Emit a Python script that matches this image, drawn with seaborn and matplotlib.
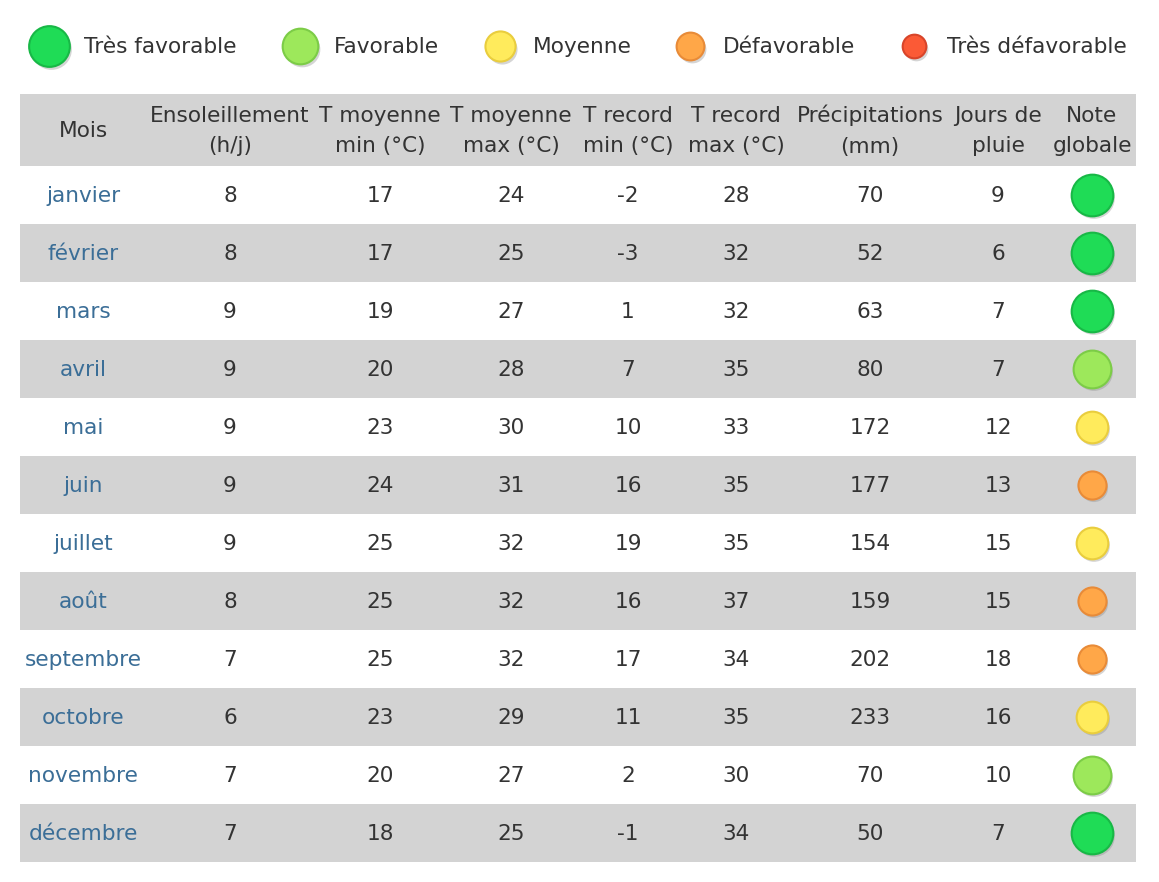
import numpy as np
import pandas as pd
import seaborn as sns
import matplotlib.pyplot as plt

# climate table data
mois = ['janvier', 'février', 'mars', 'avril', 'mai', 'juin', 'juillet',
        'août', 'septembre', 'octobre', 'novembre', 'décembre']
ensoleillement = [8, 8, 9, 9, 9, 9, 9, 8, 7, 6, 7, 7]
t_moy_min = [17, 17, 19, 20, 23, 24, 25, 25, 25, 23, 20, 18]
t_moy_max = [24, 25, 27, 28, 30, 31, 32, 32, 32, 29, 27, 25]
t_rec_min = [-2, -3, 1, 7, 10, 16, 19, 16, 17, 11, 2, -1]
t_rec_max = [28, 32, 32, 35, 33, 35, 35, 37, 34, 35, 30, 34]
precip = [70, 52, 63, 80, 172, 177, 154, 159, 202, 233, 70, 50]
jours_pluie = [9, 6, 7, 7, 12, 13, 15, 15, 18, 16, 10, 7]
note = ['Très favorable', 'Très favorable', 'Très favorable', 'Favorable',
        'Moyenne', 'Défavorable', 'Moyenne', 'Défavorable', 'Défavorable',
        'Moyenne', 'Favorable', 'Très favorable']

headers = ['Mois', 'Ensoleillement\n(h/j)', 'T moyenne\nmin (°C)',
           'T moyenne\nmax (°C)', 'T record\nmin (°C)', 'T record\nmax (°C)',
           'Précipitations\n(mm)', 'Jours de\npluie', 'Note\nglobale']
categories = ['Très favorable', 'Favorable', 'Moyenne', 'Défavorable',
              'Très défavorable']

# styles
face = {'Très favorable': '#1fdc56', 'Favorable': '#9de85b',
        'Moyenne': '#ffeb5c', 'Défavorable': '#ffa748',
        'Très défavorable': '#fb5a36'}
edge = {'Très favorable': '#18b846', 'Favorable': '#7ccc47',
        'Moyenne': '#e9cd3e', 'Défavorable': '#e88b38',
        'Très défavorable': '#d8452a'}
table_sizes = {'Très favorable': 900, 'Favorable': 740, 'Moyenne': 520,
               'Défavorable': 410, 'Très défavorable': 300}
legend_sizes = {'Très favorable': 860, 'Favorable': 660, 'Moyenne': 470,
                'Défavorable': 400, 'Très défavorable': 290}

col_x = [83, 230, 380, 511, 628, 736, 870, 998, 1092]
left, right = 20, 1136
head_top, head_bot = 94, 166
row_h = 58
txt = '#333333'
blue = '#3b6e97'
gray = '#d3d3d3'
fs = 15.6

sns.set_style('white')
plt.rcParams['font.family'] = ['DejaVu Sans']

fig = plt.figure(figsize=(11.59, 8.82), dpi=100)
ax = fig.add_axes([0, 0, 1, 1])
ax.set_xlim(0, 1159)
ax.set_ylim(882, 0)
ax.axis('off')

# header background
ax.fill_between([left, right], head_top, head_bot, color=gray, lw=0)
for j, h in enumerate(headers):
    ax.text(col_x[j], (head_top + head_bot) / 2 + 1, h, ha='center',
            va='center', fontsize=fs, color=txt, linespacing=1.68)

row_y = [head_bot + row_h * (i + 0.5) for i in range(len(mois))]
for i in range(len(mois)):
    if i % 2 == 1:
        ax.fill_between([left, right], head_bot + row_h * i,
                        head_bot + row_h * (i + 1), color=gray, lw=0)

cols = [ensoleillement, t_moy_min, t_moy_max, t_rec_min, t_rec_max,
        precip, jours_pluie]
for i, m in enumerate(mois):
    ax.text(col_x[0], row_y[i] + 1, m, ha='center', va='center',
            fontsize=fs, color=blue)
    for j, c in enumerate(cols):
        ax.text(col_x[j + 1], row_y[i] + 1, str(c[i]), ha='center',
                va='center', fontsize=fs, color=txt)

df = pd.DataFrame({'x': col_x[-1], 'y': row_y, 'note': note})

# shadows then circles
sh = df.copy()
sh['x'] = sh['x'] + 2
sh['y'] = sh['y'] + 3
sns.scatterplot(data=sh, x='x', y='y', size='note', sizes=table_sizes,
                color='#888888', alpha=0.35, linewidth=0, legend=False, ax=ax)
for cat in categories:
    sub = df[df.note == cat]
    if len(sub) == 0:
        continue
    sns.scatterplot(data=sub, x='x', y='y', s=table_sizes[cat],
                    color=face[cat], edgecolor=edge[cat], linewidth=1.5,
                    legend=False, ax=ax, zorder=3)

# legend
leg_x = [49, 300, 500, 690, 914]
leg_lab_x = [84, 334, 533, 723, 947]
leg_y = 46
lg = pd.DataFrame({'x': leg_x, 'y': leg_y, 'note': categories})
for k, cat in enumerate(categories):
    sub = lg[lg.note == cat]
    ax.scatter(sub.x + 2, sub.y + 3, s=legend_sizes[cat], color='#888888',
               alpha=0.35, lw=0)
    sns.scatterplot(data=sub, x='x', y='y', s=legend_sizes[cat],
                    color=face[cat], edgecolor=edge[cat], linewidth=1.5,
                    legend=False, ax=ax, zorder=3)
    ax.text(leg_lab_x[k], leg_y + 1, cat, ha='left', va='center',
            fontsize=fs, color=txt)

ax.set_xlim(0, 1159)
ax.set_ylim(882, 0)
fig.savefig('out.png', dpi=100)
